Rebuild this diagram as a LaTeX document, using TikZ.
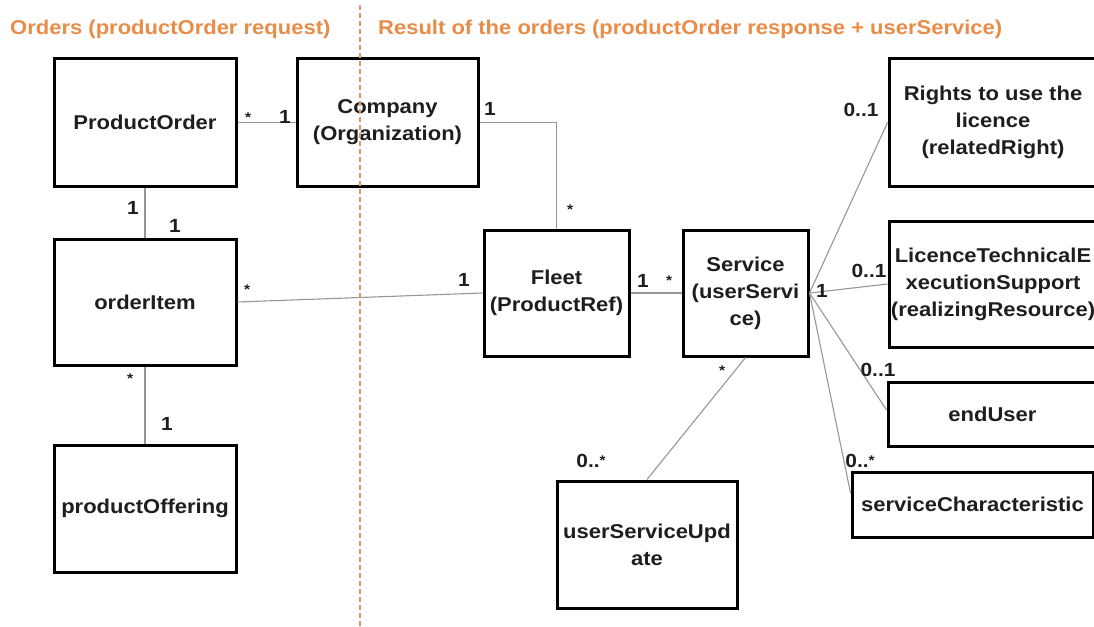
\documentclass[tikz,border=0pt]{standalone}
\usepackage{fontspec}
\setmainfont{Liberation Sans}[FakeStretch=1.1]
\usetikzlibrary{calc}
\definecolor{orangetitle}{RGB}{232,140,72}
\definecolor{dashorange}{RGB}{222,150,112}
\definecolor{conngray}{RGB}{150,150,150}
\definecolor{textblack}{RGB}{30,30,30}
\newcommand{\smallstar}{{\fontsize{14}{14}\selectfont\raisebox{2pt}{*}}}
\begin{document}
\begin{tikzpicture}[x=1pt,y=-1pt,
  box/.style={draw=black, line width=3pt, rectangle, inner sep=0pt, align=center,
    text=textblack, font=\fontsize{20}{27}\selectfont\bfseries},
  mult/.style={font=\fontsize{19}{19}\selectfont\bfseries, anchor=base, inner sep=0pt, text=textblack},
  titletext/.style={font=\fontsize{20}{24}\selectfont\bfseries, anchor=base west, inner sep=0pt, text=orangetitle},
  conn/.style={draw=conngray, line width=1.1pt},
  divider/.style={draw=dashorange, line width=1.1pt, dash pattern=on 5pt off 3pt}]
\useasboundingbox (0,0) rectangle (1094,626);
\clip (0,0) rectangle (1094,626);

% titles
\node[titletext] (t1) at (10,35) {Orders (productOrder request)};
\node[titletext] (t2) at (378,35) {Result of the orders (productOrder response + userService)};

% boxes
\node[box, minimum width=182pt, minimum height=127pt] (po) at (145,122.5) {ProductOrder};
\node[box, minimum width=181pt, minimum height=127pt] (co) at (387.5,122.5) {Company\\(Organization)};
\node[box, minimum width=182pt, minimum height=126pt] (oi) at (145,302) {orderItem};
\node[box, minimum width=182pt, minimum height=127pt] (pof) at (145,508.5) {productOffering};
\node[box, minimum width=145pt, minimum height=126pt] (fl) at (556.5,293) {Fleet\\(ProductRef)};
\node[box, minimum width=125pt, minimum height=126pt] (se) at (745.5,293) {Service\\(userServi\\ce)};
\node[box, minimum width=208pt, minimum height=127pt] (ri) at (993,122.5) {Rights to use the\\licence\\(relatedRight)};
\node[box, minimum width=208pt, minimum height=126pt] (li) at (993,284) {LicenceTechnicalE\\xecutionSupport\\(realizingResource)};
\node[box, minimum width=209pt, minimum height=64pt] (eu) at (992.5,414) {endUser};
\node[box, minimum width=241pt, minimum height=65pt] (sc) at (972.5,504.5) {serviceCharacteristic};
\node[box, minimum width=180pt, minimum height=127pt] (su) at (647,544.5) {userServiceUpd\\ate};

% connectors
\draw[conn] (po.east) -- (co.west);
\draw[conn] (co.east) -| (fl.north);
\draw[conn] (po.south) -- (oi.north);
\draw[conn] (oi.south) -- (pof.north);
\draw[conn] (oi.east) -- (fl.west);
\draw[conn] (fl.east) -- (se.west);
\draw[conn] (se.south) -- (su.north);
\draw[conn] (se.east) -- (ri.west);
\draw[conn] (se.east) -- (li.west);
\draw[conn] (se.east) -- ($(eu.west)+(0,-4)$);
\draw[conn] (se.east) -- ($(sc.west)+(0,-11.5)$);

% divider
\coordinate (dtop) at (360,5);
\coordinate (dbot) at (360,626);
\draw[divider] (dtop) -- (dbot);

% multiplicities
\node[mult] (m1) at (248,124) {\smallstar};
\node[mult] (m2) at (285,123) {1};
\node[mult] (m3) at (490,115) {1};
\node[mult] (m4) at (570,216) {\smallstar};
\node[mult] (m5) at (133,214) {1};
\node[mult] (m6) at (175,232) {1};
\node[mult] (m7) at (247,296) {\smallstar};
\node[mult] (m8) at (464,286) {1};
\node[mult] (m9) at (130,385) {\smallstar};
\node[mult] (m10) at (167,430) {1};
\node[mult] (m11) at (643,287) {1};
\node[mult] (m12) at (669,287) {\smallstar};
\node[mult] (m13) at (722,377) {\smallstar};
\node[mult] (m14) at (591,467) {0..\smallstar};
\node[mult] (m15) at (861,116) {0..1};
\node[mult] (m16) at (869,277) {0..1};
\node[mult] (m17) at (822,297) {1};
\node[mult] (m18) at (878,376) {0..1};
\node[mult] (m19) at (860,467) {0..\smallstar};
\end{tikzpicture}
\end{document}
